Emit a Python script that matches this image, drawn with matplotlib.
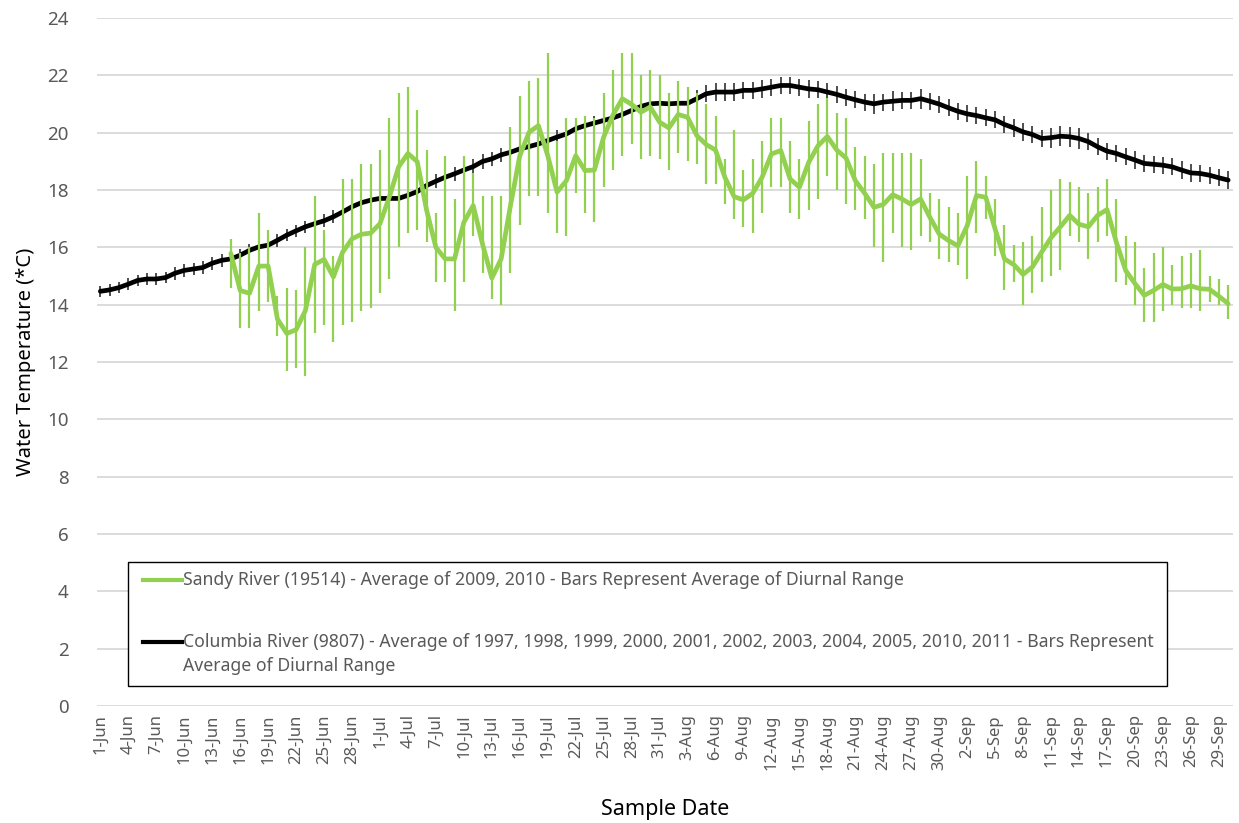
import numpy as np
import pandas as pd
import matplotlib
matplotlib.use("Agg")
import matplotlib.pyplot as plt
from matplotlib.lines import Line2D
from matplotlib.patches import Rectangle

plt.rcParams['font.family'] = ['Noto Sans', 'DejaVu Sans']

# dates 1-Jun .. 30-Sep
dates = pd.date_range("2011-06-01", "2011-09-30", freq="D")
date_labels = [f"{d.day}-{d.strftime('%b')}" for d in dates]

# Columbia River (9807) daily mean, 1-Jun .. 30-Sep
columbia = [14.47, 14.52, 14.6, 14.72, 14.85, 14.9, 14.9, 14.95, 15.1, 15.2, 15.25, 15.3, 15.45, 15.55,
            15.6, 15.73, 15.9, 16.02, 16.08, 16.25, 16.43, 16.58, 16.72, 16.83, 16.93, 17.07, 17.24, 17.42,
            17.56, 17.65, 17.71, 17.71, 17.71, 17.82, 17.95,
            18.16, 18.31, 18.45, 18.57, 18.7, 18.82, 19.0, 19.09, 19.23, 19.32, 19.44, 19.52, 19.61, 19.73,
            19.85, 19.96, 20.14, 20.25, 20.34, 20.43,
            20.52, 20.64, 20.78, 20.92, 21.01, 21.03, 21.01, 21.03, 21.03, 21.19, 21.36, 21.42, 21.42, 21.42,
            21.48, 21.48, 21.53, 21.59, 21.65, 21.65, 21.59,
            21.53, 21.5, 21.42, 21.34, 21.24, 21.15, 21.07, 21.01, 21.07, 21.1, 21.13, 21.13, 21.19, 21.1,
            21.0, 20.87, 20.75, 20.66, 20.6, 20.52, 20.45, 20.29,
            20.17, 20.03, 19.94, 19.8, 19.83, 19.88, 19.86, 19.8, 19.69, 19.51, 19.36, 19.28, 19.16, 19.05,
            18.93, 18.9, 18.87, 18.81, 18.7, 18.6, 18.58, 18.52, 18.43, 18.35]
columbia_err = [0.2, 0.2, 0.2, 0.2, 0.2, 0.2, 0.2, 0.2, 0.22, 0.22, 0.22, 0.22, 0.22, 0.22,
                0.22, 0.22, 0.22, 0.22, 0.22, 0.22, 0.22, 0.22, 0.22, 0.22, 0.22, 0.22, 0.22, 0.22,
                0.22, 0.22, 0.22, 0.22, 0.22, 0.22, 0.25,
                0.25, 0.25, 0.25, 0.25, 0.25, 0.25, 0.25, 0.25, 0.25, 0.25, 0.25, 0.25, 0.25, 0.25,
                0.25, 0.25, 0.25, 0.25, 0.25, 0.28,
                0.28, 0.3, 0.3, 0.3, 0.3, 0.3, 0.3, 0.3, 0.3, 0.3, 0.3, 0.3, 0.3, 0.3,
                0.3, 0.3, 0.3, 0.3, 0.3, 0.3, 0.3,
                0.3, 0.3, 0.3, 0.3, 0.3, 0.3, 0.3, 0.35, 0.3, 0.35, 0.3, 0.3, 0.35, 0.3,
                0.3, 0.3, 0.3, 0.3, 0.3, 0.3, 0.3, 0.3,
                0.3, 0.3, 0.3, 0.3, 0.35, 0.35, 0.35, 0.35, 0.3, 0.3, 0.3, 0.3, 0.3, 0.3,
                0.3, 0.3, 0.3, 0.3, 0.3, 0.3, 0.3, 0.3, 0.3, 0.3]

# Sandy River (19514) daily mean, 15-Jun .. 30-Sep
sandy_start = 14
sandy = [15.79, 14.5, 14.4, 15.35, 15.35, 13.5, 13.0, 13.13, 13.8, 15.41, 15.58, 14.97, 15.84, 16.3,
         16.46, 16.5, 16.83, 17.76, 18.81, 19.28, 18.99, 17.3, 16.0, 15.6, 15.6, 16.88, 17.46, 16.12,
         14.93, 15.6, 17.46, 19.2, 20.02, 20.25, 19.2, 17.93, 18.33, 19.2, 18.68, 18.7, 19.85, 20.62,
         21.19, 20.99, 20.72, 20.9, 20.37, 20.17, 20.64, 20.54, 19.9, 19.59, 19.4, 18.45, 17.77, 17.66,
         17.89, 18.45, 19.26, 19.38, 18.39, 18.1, 18.97, 19.55, 19.87, 19.4, 19.12, 18.33, 17.89, 17.4,
         17.5, 17.84, 17.69, 17.5, 17.69, 17.05, 16.47, 16.24, 16.06, 16.76, 17.81, 17.75, 16.64, 15.6,
         15.4, 15.06, 15.32, 15.84, 16.34, 16.72, 17.12, 16.81, 16.72, 17.12, 17.32, 16.19, 15.2, 14.74,
         14.33, 14.5, 14.71, 14.55, 14.56, 14.66, 14.56, 14.54, 14.3, 14.04]
# ends of the diurnal range bars
sandy_high = [16.3, 15.8, 16.0, 17.2, 16.6, 14.3, 14.6, 14.5, 16.0, 17.8, 16.6, 15.7, 18.4, 18.4,
              18.9, 18.9, 19.4, 20.5, 21.4, 21.6, 20.8, 19.4, 17.2, 19.2, 17.7, 19.2, 18.6, 17.8,
              17.8, 17.8, 20.2, 21.3, 21.8, 21.9, 22.8, 19.7, 20.5, 20.5, 20.6, 20.5, 21.4, 22.2,
              22.8, 22.8, 22.0, 22.2, 22.0, 21.4, 21.8, 21.6, 21.4, 21.0, 20.6, 19.1, 20.1, 18.7,
              19.1, 19.7, 20.5, 20.5, 19.7, 19.1, 20.4, 21.0, 21.2, 20.7, 20.5, 19.5, 19.2, 18.9,
              19.3, 19.3, 19.3, 19.3, 19.1, 17.9, 17.7, 17.4, 17.2, 18.5, 19.0, 18.5, 17.7, 16.8,
              16.1, 16.2, 16.4, 17.4, 18.0, 18.4, 18.3, 18.1, 17.9, 18.1, 18.4, 17.7, 16.4, 16.2,
              15.3, 15.8, 16.0, 15.4, 15.7, 15.8, 15.9, 15.0, 14.9, 14.7]
sandy_low = [14.6, 13.2, 13.2, 13.8, 14.1, 12.9, 11.7, 11.8, 11.5, 13.0, 13.3, 12.7, 13.3, 13.4,
             13.8, 13.9, 14.4, 14.9, 16.0, 16.5, 16.6, 16.2, 14.8, 14.8, 13.8, 14.8, 16.4, 15.1,
             14.2, 14.0, 15.1, 16.8, 17.8, 17.8, 17.2, 16.5, 16.4, 17.9, 17.2, 16.9, 18.1, 18.7,
             19.2, 19.6, 19.1, 19.2, 19.1, 18.7, 19.3, 19.0, 18.9, 18.2, 18.2, 17.5, 17.0, 16.7,
             16.5, 17.2, 18.1, 18.1, 17.2, 17.0, 17.3, 17.7, 18.5, 18.0, 17.5, 17.3, 17.0, 16.0,
             15.5, 16.5, 16.0, 15.9, 16.4, 16.2, 15.6, 15.5, 15.4, 14.9, 16.5, 17.0, 15.7, 14.5,
             14.8, 14.0, 14.4, 14.8, 15.0, 15.2, 16.4, 16.2, 15.6, 16.2, 16.4, 14.8, 14.7, 14.0,
             13.4, 13.4, 13.8, 14.0, 13.9, 13.9, 13.8, 14.1, 14.0, 13.5]

sandy_label = "Sandy River (19514) - Average of 2009, 2010 - Bars Represent Average of Diurnal Range"
columbia_label = ["Columbia River (9807) - Average of 1997, 1998, 1999, 2000, 2001, 2002, 2003, 2004, 2005, 2010, 2011 - Bars Represent",
                  "Average of Diurnal Range"]

green = "#92D050"
text_grey = "#595959"

x = np.arange(len(dates))
xs = np.arange(sandy_start, sandy_start + len(sandy))
sandy = np.array(sandy)
s_lo = sandy - np.array(sandy_low)
s_hi = np.array(sandy_high) - sandy

fig = plt.figure(figsize=(12.39, 8.23), dpi=100)
ax = fig.add_axes([0.078, 0.142, 0.917, 0.836])

ax.errorbar(x, columbia, yerr=columbia_err, fmt='none', ecolor="#404040", elinewidth=1.3, capsize=0, zorder=3)
ax.plot(x, columbia, color="black", lw=3.4, zorder=4, solid_capstyle='round')
ax.errorbar(xs, sandy, yerr=[s_lo, s_hi], fmt='none', ecolor=green, elinewidth=1.6, capsize=0, zorder=5)
ax.plot(xs, sandy, color=green, lw=3.4, zorder=6, solid_capstyle='round')

ax.set_xlim(-0.4, len(dates) - 0.5)
ax.set_ylim(0, 24)
ax.set_yticks(np.arange(0, 25, 2))
ax.set_xticks(x[::3])
ax.set_xticklabels(date_labels[::3], rotation=90, fontsize=12, color=text_grey)
ax.tick_params(axis='y', labelsize=13.5, colors=text_grey, length=0, pad=20)
ax.tick_params(axis='x', length=0, pad=6)
ax.grid(axis='y', color="#d9d9d9", lw=1.3)
ax.set_axisbelow(True)
for s in ax.spines.values():
    s.set_visible(False)

ax.set_ylabel("Water Temperature (*C)", fontsize=14.5, color="black", labelpad=8)
ax.set_xlabel("Sample Date", fontsize=15.5, color="black", labelpad=21)

# legend box drawn by hand (Excel style, first line of wrapped label aligned with handle)
tr = ax.transAxes
ax.add_patch(Rectangle((0.0273, 0.029), 0.9147, 0.180, transform=tr, fill=True, facecolor="white",
                       edgecolor="black", lw=1.0, zorder=10))
ax.add_line(Line2D([0.0405, 0.0748], [0.183, 0.183], transform=tr, color=green, lw=3, zorder=11))
ax.text(0.0757, 0.183, sandy_label, transform=tr, fontsize=12.7, color=text_grey, va='center', ha='left', zorder=11)
ax.add_line(Line2D([0.0405, 0.0748], [0.093, 0.093], transform=tr, color="black", lw=3, zorder=11))
ax.text(0.0757, 0.093, columbia_label[0], transform=tr, fontsize=12.7, color=text_grey, va='center', ha='left', zorder=11)
ax.text(0.0757, 0.058, columbia_label[1], transform=tr, fontsize=12.7, color=text_grey, va='center', ha='left', zorder=11)

fig.savefig("out.png", dpi=100)
